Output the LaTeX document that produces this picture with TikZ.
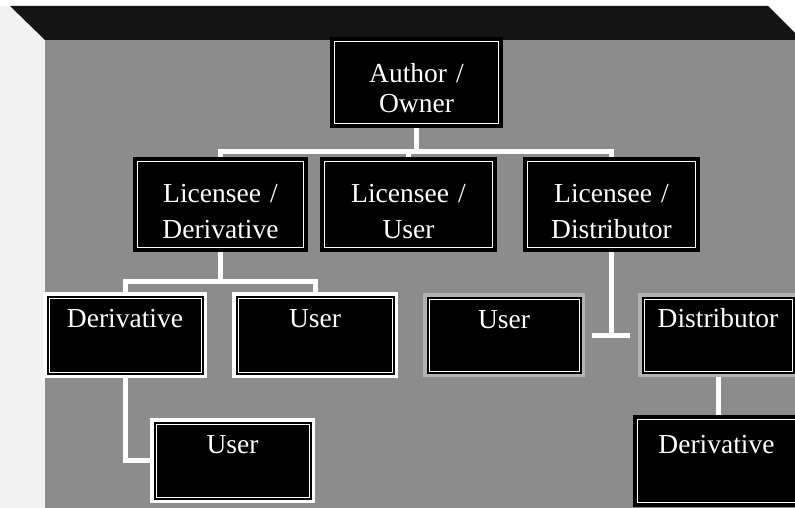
\documentclass[tikz,border=0pt]{standalone}
\usepackage{fontspec}
\setmainfont{Liberation Serif}
\pgfdeclarelayer{bg}
\pgfsetlayers{bg,main}
\tikzset{
  boxbase/.style={rectangle, inner sep=0pt, outer sep=0pt, fill=black,
    text=white, align=center, font=\fontsize{27.5}{36}\selectfont},
  % black box with a thin white line just inside its edge
  thinframe/.style={boxbase, draw=white, line width=1.2pt,
    preaction={draw=black, line width=9pt}},
  % black box with a broad light band, a dark rule and a thin white line
  thickframe/.style={boxbase, draw=white, line width=1pt,
    preaction={draw=#1, line width=12pt},
    preaction={draw=black, line width=5pt}},
  thickframe/.default=white,
  conn/.style={draw=white, line width=5pt},
}
\begin{document}
\begin{tikzpicture}[x=1pt, y=-1pt]
\useasboundingbox (0,0) rectangle (795,508);
\clip (0,0) rectangle (795,508);

% top level
\node[thinframe, font=\fontsize{27.5}{30}\selectfont, text width=164pt,
      text height=41.5pt, text depth=40.5pt] (author) at (416.5,82.5)
      {Author /\\Owner};

% licensees
\node[thinframe, text width=166pt, text height=40.5pt, text depth=45.5pt]
      (licder) at (220.5,204.5) {Licensee /\\Derivative};
\node[thinframe, text width=168pt, text height=40.5pt, text depth=45.5pt]
      (licuser) at (408.5,204.5) {Licensee /\\User};
\node[thinframe, text width=168pt, text height=40.5pt, text depth=45.5pt]
      (licdist) at (611.5,204.5) {Licensee /\\Distributor};

% third row
\node[thickframe, text width=152pt, text height=29pt, text depth=45pt]
      (deriv) at (125,335) {Derivative};
\node[thickframe, text width=154pt, text height=29pt, text depth=45pt]
      (userl) at (315,335) {User};
\node[thickframe=black!30, text width=150pt, text height=29pt, text depth=43pt]
      (userm) at (504,335) {User};
\node[thickframe=black!30, text width=148pt, text height=28pt, text depth=44pt]
      (distr) at (718,335) {Distributor};

% bottom row
\node[thickframe, text width=153pt, text height=29pt, text depth=44pt]
      (userb) at (232.5,460.5) {User};
\node[thinframe, text width=158pt, text height=33.5pt, text depth=49.5pt]
      (derivb) at (716.5,461) {Derivative};

\begin{pgfonlayer}{bg}
  % box faces behind the chart
  \fill[black!5] (0,6) -- (10,6) -- (45,40) -- (45,508) -- (0,508) -- cycle;
  \fill[black!92] (10,6) -- (768,6) -- (795,33) -- (795,40) -- (45,40) -- cycle;
  \fill[black!45] (45,40) rectangle (795,508);

  % connectors
  \draw[conn] (author.south) -- ++(0,28.5) -| (licder.north);
  \draw[conn] (author.south) -- ++(0,28.5) -| (licuser.north);
  \draw[conn] (author.south) -- ++(0,28.5) -| (licdist.north);

  \draw[conn] (licder.south) -- ++(0,34) -| (deriv.north);
  \draw[conn] (licder.south) -- ++(0,34) -| (userl.north);
  \draw[conn] (deriv.south) |- (userb.west);

  \draw[conn] (licdist.south) -- (licdist.south |- userm.east);
  \draw[conn] ([xshift=13pt]userm.east) -- ([xshift=-14pt]distr.west);
  \draw[conn] (distr.south) -- (distr.south |- derivb.north);
\end{pgfonlayer}
\end{tikzpicture}
\end{document}
